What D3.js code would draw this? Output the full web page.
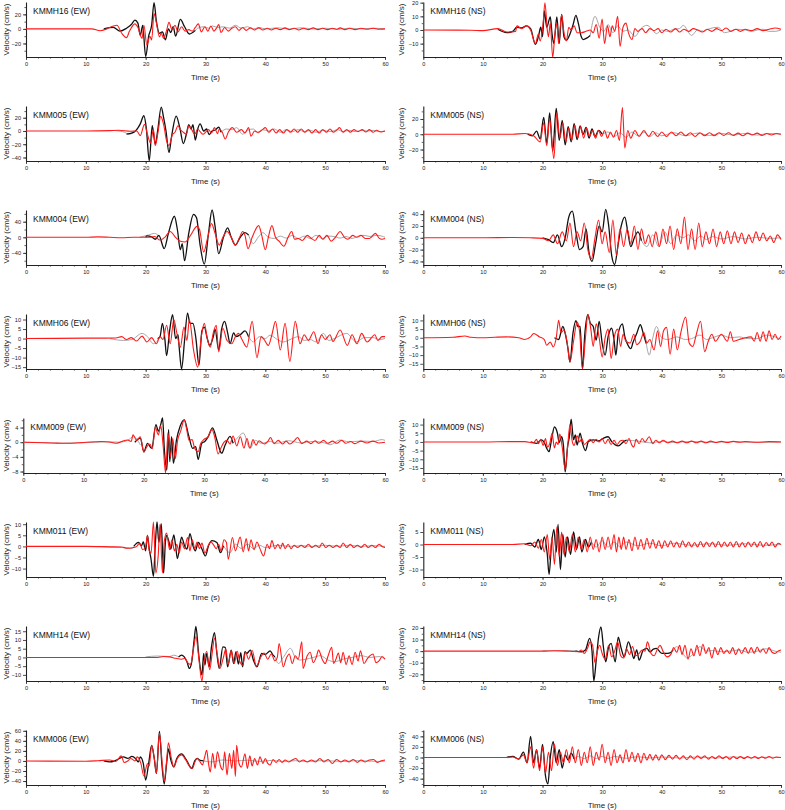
<!DOCTYPE html>
<html><head><meta charset="utf-8">
<script src="https://cdn.jsdelivr.net/npm/d3@7"></script>
<style>
body{margin:0;background:#fff}
text{font-family:"Liberation Sans",Arial,sans-serif}
</style>
</head><body>
<svg id="c" width="785" height="810"></svg>
<script>
// ---------- data: flat [time, velocity, time, velocity, ...]; null,null = gap ----------
const timeTicks = [0,10,20,30,40,50,60];

const ew1Obs = [13,0, 14.6,2, 15.7,-3, 16.8,1, 17.6,6, 18.2,12, 18.7,8, 19.1,-9, 19.5,5, 20.0,-38, 20.5,-10, 21.0,5, 21.4,36, 21.8,10, 22.3,-6, 22.8,-4, 23.3,-15, 23.8,0, 24.2,-5, 24.6,3, 25.0,-10, 25.8,13, 26.5,3, 27.3,-7, 28.3,-2];
const ew1Alt = [28.3,-2, 29,2, 29.8,3, 30.5,1, 31.2,4, 32,2, 33,3, 34,1, 35,5, 36,1, 37,3, 38,0, 39,2, 40,0, 42,1.5, 44,0, 46,1.5, 48,0, 50,1, 52,-0.5, 54,1, 56,0, 58,1, 60,0];
const ew1Sim = [0,0, 11,0, 12.4,-2.5, 13.5,0, 14.6,4, 15.2,5, 16.0,-6, 16.8,-12, 17.3,-3, 18.2,7, 18.7,2, 19.4,-13, 19.7,5, 20.2,-22, 20.7,-10, 21.0,-15, 21.4,21, 21.8,8, 22.3,-11, 22.6,-6, 23.0,-13, 23.5,-2, 23.9,9, 24.4,-1, 24.9,5, 25.4,-4, 26.0,3, 26.6,-3, 27.2,-1, 27.8,-3, 28.3,2, 28.8,7, 29.3,-4, 29.9,3, 30.4,-3, 30.9,4, 31.4,-3, 31.9,2, 32.2,6, 32.6,-5, 33.2,2, 33.8,-3, 34.4,1, 35.0,3, 35.6,-2, 36.2,2, 36.8,-2, 37.5,1.5, 38.2,-1.5, 38.9,1.5, 39.6,-1.5, 40.3,1, 41,-1.5, 41.8,1, 42.5,-1, 43.3,1.5, 44,-1, 44.8,1, 45.6,-1.5, 46.4,1, 47.2,-1, 48,1.5, 48.8,-1, 49.6,1, 50.4,-1, 51.2,1, 52,-0.5, 52.5,1.5, 53.3,-1, 54.1,1, 55,-1, 56,1, 57,-0.5, 58,1, 59,-0.5, 60,0];

const ew2Obs = [16.8,-4.6, 18,-2, 19.1,10.7, 19.7,23, 20.1,5, 20.6,-45, 21.1,8, 21.6,-20, 22,0, 22.6,36, 23,20, 23.4,0, 23.9,-32.6, 24.3,-10, 25.1,22.4, 25.7,5, 26.3,-19, 26.8,-5, 27.2,9.7, 27.6,3, 27.9,9.7, 28.3,-13.7, 28.7,3, 29.1,10.7, 29.7,0, 30.2,3, 30.6,-5.6, 31.1,0, 31.6,1.5, 32.2,5.6, 32.6,-2];
const ew2Alt = [15,0.5, 16.5,-2, 17.2,-5, 18,-2, null,null, 32.6,-2, 33.5,3, 34.5,2, 35.2,5, 36.2,-5, 37,1, 38,3, 38.8,-3, 39.5,2, 40.5,0, 41.5,3, 42.5,-2, 43.5,2, 44.5,-1, 45.5,2, 46.5,-1, 47.5,1, 48.5,-2, 49.5,1, 51,-1, 52,2, 53,-1, 54,1, 55,-1, 56,1, 57,0, 58,1, 59,-1, 60,0];
const ew2Sim = [0,0, 10,0, 14,0.5, 15.5,1, 17.5,-0.5, 18.5,0, 19.1,-7, 19.8,10, 20.3,-5, 20.8,-18, 21.3,2, 21.6,-22, 22.1,0, 22.5,22, 23.0,10, 23.5,-15, 23.9,-22, 24.5,-5, 24.9,-2, 25.4,8, 25.8,2, 26.3,-2, 26.8,-5, 27.2,8, 27.7,2, 28.2,-5, 28.7,3, 29.1,-1, 29.6,-5, 30,-2, 30.5,2, 31,-3, 31.5,5, 32,-4, 32.3,3, 32.8,-2, 33.3,-12, 33.8,-2, 34.5,5, 35.2,-2, 36,2, 36.6,-3, 37.2,5, 37.6,-8, 38.2,0, 38.8,-2, 39.5,2, 40,5, 40.6,-2, 41.2,3, 41.8,-3, 42.4,2, 43,-3, 43.6,2, 44.2,-2, 44.8,3, 45.4,-2, 46,3, 46.6,-2, 47.2,2, 47.8,-3, 48.4,2, 49,-3, 49.6,2, 50.2,-2, 50.8,3, 51.4,-2, 52,2, 52.4,5, 53,-2, 53.6,2, 54.2,-2, 54.8,2, 55.5,-1, 56.2,2, 56.8,-1.5, 57.4,2, 58,-2, 58.6,1, 59.3,-1.5, 60,0];

const ew3Obs = [20,0, 20.2,3.5, 21,1, 21.6,-5, 22.2,5, 23.1,-29, 23.8,10, 24.8,54, 25.3,20, 25.8,-32, 26.1,-16, 26.5,-60, 27.2,10, 28,59, 28.5,50, 29.1,-20, 29.8,-69, 30.5,10, 31.1,70, 31.6,28, 32.2,-42, 33,0, 33.7,24, 34.3,0, 35,-20, 35.8,0, 36.6,12, 37.2,6];
const ew3Alt = [19,0, 20.5,6, 21.5,10, 22.2,3, null,null, 37.2,6, 38,-16, 38.8,0, 39.6,12, 40.5,0, 41.5,-3, 42.5,3, 43.5,-2, 44.5,5, 45.5,-3, 46.5,3, 47.5,-3, 48.5,5, 49.5,-3, 50.5,3, 51.5,2, 52.5,-2, 53.5,2, 54.5,-3, 55.5,3, 56.5,5, 57.5,2, 58.5,5, 59.5,3, 60,0];
const ew3Sim = [0,0, 10,0, 12,1, 14,0, 16,-1, 18,0, 20.5,0, 21.5,2, 22.4,-7, 23.2,0, 24.1,15, 25,0, 25.8,-10, 26.6,-12, 27.5,5, 28.6,28, 29,20, 29.7,-38, 30.3,-5, 31,35, 31.6,10, 32.3,-20, 32.9,0, 33.6,15, 34.3,0, 35,-20, 35.7,0, 36.2,15, 36.6,5, 37.1,-29, 37.8,0, 38.9,30, 39.4,5, 40,-32, 40.5,0, 41.1,30, 41.7,0, 42.3,-10, 43.1,-23, 43.8,0, 44.4,15, 44.9,-5, 45.5,-3, 46.2,-8, 47,5, 47.7,-3, 48.3,-8, 49,5, 49.6,-5, 50.3,5, 51,-10, 51.7,0, 52.5,15, 53.2,0, 53.8,-5, 54.6,5, 55.3,0, 56,5, 56.7,-3, 57.4,-3, 58.4,10, 59,-2, 59.5,-5, 60,-3];

const ew4Obs = [22,0, 22.4,1, 22.8,8, 23.2,0, 23.5,-9, 24,4, 24.5,12.5, 25,0, 25.4,2, 25.6,-4.5, 26,-16, 26.5,-1, 27,13.4, 27.4,8, 27.9,8, 28.4,0, 28.9,-14, 29.4,4, 29.8,6, 30.3,0, 30.7,-3.6, 31.3,1, 31.6,5, 32.2,-6, 32.7,5, 33.2,9, 33.7,3, 34.1,-2.7, 34.7,3, 35.1,1, 35.8,2, 36.6,4, 37.2,1];
const ew4Alt = [14,0, 16.3,-1, 17.7,-0.5, 19.4,2.7, 20.3,1, 21.3,-2.7, 22.4,1, null,null, 37.2,1, 38,-1.8, 39,1, 40,0, 40.8,1.8, 42,-0.5, 43,-1.8, 44.5,0, 45.5,1, 46.5,-1, 47.5,-0.5, 48.5,-1.8, 49.7,2.7, 50.6,-1, 51.5,0, 53.6,2.7, 55.2,-1.8, 56.5,0.5, 58,0.5, 59,-0.5, 60,0];
const ew4Sim = [0,0, 10,0.2, 15,0.3, 16,1, 16.8,-0.5, 17.6,0.5, 18.5,-1.3, 19.4,1.3, 20.2,-1.8, 21,0.5, 21.8,-2.7, 22.4,1, 22.9,-0.5, 23.5,7, 24.1,-2.7, 24.7,10, 25.2,3, 25.8,-4.5, 26.4,6, 26.9,-1, 27.3,10, 28,-6, 28.7,-15, 29.3,1, 29.8,8, 30.3,0, 30.8,-4.5, 31.3,3, 31.8,7, 32.2,-7, 32.9,5.4, 33.6,-1, 34.4,-2.7, 35,1, 35.5,2.7, 36.1,-0.5, 36.9,-4.5, 37.8,9, 38.6,-10, 39.3,1, 39.8,-0.5, 40.5,-3.6, 41.1,2, 41.7,9, 42.5,-6, 43.3,8, 44.1,-12, 45,9, 45.8,-2.7, 46.5,2, 47.2,-1, 48.1,3.6, 48.8,-2.7, 49.4,2, 50,-0.5, 50.8,2, 51.3,-1.5, 52.5,4.5, 53.7,-3.6, 54.5,2, 55.3,-2.7, 56.1,2.7, 57,-1.8, 58.3,2, 58.8,-1, 59.5,1, 60,1];

const ew5Obs = [18.5,0, 19.4,1.1, 20,-2.6, 20.6,-0.3, 21.3,-1.7, 22,4.8, 22.4,3, 22.8,4.8, 23.1,6.6, 23.4,-2, 23.8,-7.6, 24.1,3.4, 24.3,-5.3, 24.6,1.5, 24.9,-5.8, 25.4,0.5, 26,4.3, 26.7,6.1, 27.4,2, 28.1,-1.7, 28.6,-1.2, 29,-4.7, 29.6,-0.3, 30.1,0.2, 30.7,1.6, 31.4,3.9, 32.1,0.6, 32.9,-3, 33.5,-0.7, 34.3,1.6, 34.8,-0.3];
const ew5Alt = [0,0, 3,-0.1, 6,-0.3, 9,-0.2, 12,0, 14,0.1, 16,0, 17.3,0.5, 18.3,1.5, 19.4,-0.7, null,null, 34.8,-0.3, 35.7,1.5, 36.5,2.5, 37.6,-1.7, 38.5,0.5, 39.5,-0.3, 41,0.2, 42,-0.3, 44,0.4, 46,-0.2, 48,0.2, 50,-0.2, 50.9,-0.7, 52.5,0.6, 54,0.1, 56,0.3, 58,0.2, 59.5,0.7, 60,0.5];
const ew5Sim = [0,0, 5,-0.2, 7,-0.3, 10,-0.1, 13,0.2, 14.5,0, 15.5,-0.3, 16.5,0.3, 17.3,0.6, 17.9,0.2, 18.2,2, 18.8,0.5, 19.4,1.5, 20,-2.7, 20.5,-1.2, 21,-0.5, 21.4,-1.8, 21.9,4, 22.4,2, 22.8,4.5, 23.2,-1, 23.6,-8.4, 24,2.5, 24.4,-4, 24.8,1, 25.2,-4.5, 25.6,0.5, 26.1,3, 26.7,6.1, 27.1,3.5, 27.5,0.5, 28,0.7, 28.4,-1.5, 29,-2.6, 29.4,-0.5, 30,0.8, 30.6,1.4, 31.3,3.5, 31.8,1, 32.3,-3.2, 32.8,-1.5, 33.3,0, 33.8,0.5, 34.3,-0.5, 34.8,1.7, 35.4,-1, 36,1.5, 36.6,-1.6, 37.1,1, 37.6,-1.6, 38.1,0.7, 38.6,-0.8, 39.1,0.4, 40,-0.5, 40.6,0.3, 41,1.3, 41.6,-0.4, 42.3,0.5, 43,-0.5, 43.6,0.3, 44.2,-0.5, 45,0.5, 45.5,1.3, 46.2,-0.4, 47,0.3, 47.7,-0.4, 48.4,0.4, 49,-0.3, 49.8,0.5, 50.5,-0.3, 51.3,0.3, 52,-0.3, 52.8,0.5, 53.5,-0.3, 54.3,0.2, 55,-0.4, 56,0.3, 57,-0.2, 58,0.3, 59,-0.2, 60,0];

const ew6Obs = [18,0, 18.8,1.8, 19.3,0.3, 19.6,2, 20,-2, 20.3,5, 20.6,-1.2, 20.9,-5.8, 21.3,-13.5, 21.6,0.3, 21.9,11, 22.2,1.8, 22.6,10.3, 22.8,-0.5, 23,-12, 23.3,2, 23.5,5, 23.9,2, 24.2,-1.2, 24.7,5.2, 25,0.3, 25.3,-5.5, 25.8,2, 26,4.2, 26.5,0.3, 26.9,-1.2, 27.4,5.7, 27.9,0.3, 28.3,-2, 28.8,1.8, 29.4,-1.2, 30,-4.3, 30.5,0.3, 31.1,2.6, 31.9,1.8, 32.5,-2.8, 33,0.3];
const ew6Alt = [12,0, 14,-0.3, 16,-0.5, 17.5,-1, 18,-0.5, null,null, 33,0.3, 34.1,-2.8, 35,1, 36,-1, 37,1, 38,-1, 39,0.5, 40,-0.5, 42,0.5, 44,0, 46,0.3, 48,0, 50,0.5, 52,0, 54,0.5, 56,0, 58,0.3, 60,0];
const ew6Sim = [0,0, 10,0, 14,-0.2, 16,-0.3, 17,-0.8, 18,-0.5, 18.5,0, 19,1.5, 19.5,-1.5, 20,0, 20.3,5, 20.6,-2, 20.9,-3, 21.3,11, 21.7,-12, 22.1,-4, 22.4,10, 22.8,-12, 23.1,2, 23.5,6, 24,-1.5, 24.4,3, 24.8,-2, 25.2,1, 25.6,-3, 26,2, 26.5,-1, 27,4, 27.4,-2, 27.8,3, 28.2,-1, 28.6,2, 29,-1, 29.4,1.5, 29.9,-3, 30.4,0, 30.9,2, 31.4,0.5, 31.8,-1, 32.2,1, 32.6,-2, 33.1,3, 33.5,1.8, 33.8,-5.8, 34.5,4, 35,-2, 35.8,4.2, 36.3,-2.5, 36.8,3.5, 37.2,-2, 37.6,3, 38.1,-1.5, 38.6,2, 39.1,-1, 39.7,-4.3, 40.3,1, 40.7,-1, 41.1,2.6, 41.6,-1, 42.1,1, 42.5,-1, 42.9,1.5, 43.3,-1, 43.8,1, 44.3,-1, 44.8,0.5, 45.4,-0.5, 46,0.5, 46.6,-0.5, 47.2,1, 47.8,-0.5, 48.4,0.5, 49,-0.5, 49.5,1.5, 50.1,-0.5, 50.7,0.5, 51.3,-0.5, 51.9,0.5, 52.5,-0.5, 53,1.5, 53.6,-0.5, 54.2,1, 54.8,-0.5, 55.4,0.5, 56,-0.5, 56.6,1, 57.2,-0.5, 57.8,0.5, 58.4,-0.5, 59,1, 59.5,0, 60,-0.5];

const ew7Obs = [25.5,0.3, 26,1.3, 26.9,-2.5, 27.3,-6.3, 27.7,-2.5, 28.1,10, 28.4,17.7, 28.8,4, 29.1,-5.4, 29.4,-10, 29.7,2.3, 29.9,-4.4, 30.2,2.3, 30.6,-5.4, 31,6, 31.5,14.2, 31.9,2.3, 32.3,-6.3, 32.9,6, 33.3,5.8, 33.7,-5.4, 34.3,4.2, 34.7,-3.5, 35.1,3.3, 35.5,-3.8, 35.9,2.7, 36.2,-5.4, 36.6,3.3, 36.9,2.3, 37.5,4.2, 38,-1.5, 38.6,-5.4, 39.4,2.3, 40,1.7, 40.8,3.8, 41.3,1.3, 41.6,0.3];
const ew7Alt = [20,0.3, 22,0.8, 24,0.5, 24.7,1.3, 25.5,0.3, null,null, 41.6,0.3, 42.2,-3.5, 43,0, 44.2,5.2, 45,0, 45.8,-1.5, 46.8,-1, 48,0, 49.2,1, 50.5,-1.5, 51.5,-2.5, 53,-1, 54.5,0, 56,1, 57.5,0, 59,0.5, 60,-1];
const ew7Sim = [0,0, 10,0, 20,0, 22,0, 23,0.5, 24,0.3, 25,-0.5, 26,-1, 26.6,-0.5, 27,-3, 27.5,-4, 28,5, 28.4,12, 28.9,-1, 29.4,-13.5, 29.8,-2, 30.2,3.5, 30.7,-7, 31.1,2, 31.5,11, 32,1, 32.4,-6.3, 33,0, 33.4,5, 33.8,-4, 34.3,4, 34.8,-3.5, 35.3,3.5, 35.7,-2, 36.2,-4.5, 36.7,3, 37.2,-1, 37.8,4, 38.5,-5, 39.2,0, 39.8,2.5, 40.4,-1, 41,2, 41.6,-2, 42,0, 42.3,8, 43,-5.4, 43.5,-0.5, 44,2, 44.5,-3.5, 45,1, 45.5,-1, 46.1,9, 46.3,-6.3, 47,1, 47.5,3, 48,-3, 48.5,0, 48.9,4.2, 49.5,-1, 50,-3.5, 50.5,1, 51.1,5.8, 51.4,-3.5, 51.8,-1, 52.2,2.5, 52.6,-3, 53,3, 53.5,-4, 54,1, 54.5,-4, 55,3, 55.5,-2, 55.9,3.8, 56.5,-3.5, 57,-1, 57.5,1, 58,2, 58.5,-3, 59,-2, 59.5,0.5, 60,-1];

const ew8Obs = [13,0, 14,-2, 15,1, 16.3,8, 17,5, 17.7,9, 18.3,5, 18.8,-2, 19.1,8, 19.6,-5, 20,-38, 20.5,-5, 21,31, 21.4,8, 21.8,-25, 22.3,59, 22.7,-5, 23.1,-46, 23.5,-5, 23.8,24, 24.2,2, 24.7,-12, 25.2,5, 26,14, 26.8,2, 27.7,-15, 28.2,0, 28.6,5, 29.1,1, 29.7,0];
const ew8Alt = [29.7,0, 31,-2, 33,2, 35,0, 37,1.5, 39,-1, 41,1, 43,-1, 45,0.5, 47,-1, 49,0.5, 51,0, 53,-1, 55,0.5, 57,0, 59,-1, 60,0];
const ew8Sim = [0,0, 10,-0.5, 12,0.5, 14,2, 15,-1, 15.9,10, 16.4,-3, 17,0, 17.5,5, 18.2,0, 18.6,8, 19.2,-5, 19.7,-30, 20.3,-5, 20.6,-10, 21,31, 21.5,0, 21.8,-25, 22.3,55, 22.8,-10, 23.1,-40, 23.5,0, 23.8,36, 24.3,5, 24.7,-12, 25.3,5, 26,12, 26.7,2, 27.3,-10, 27.8,-15, 28.3,0, 28.6,5, 29.1,-2, 29.5,-8, 29.8,5, 30.2,21, 30.5,-5, 30.8,-22, 31.2,15, 31.6,-15, 32,18, 32.5,-10, 32.9,-18, 33.2,18, 33.6,-28, 34,15, 34.4,-15, 34.7,21, 35,-31, 35.2,31, 35.6,-5, 36,-12, 36.6,14, 37,-15, 37.4,10, 37.8,-10, 38.2,5, 38.7,-8, 39.1,8, 39.6,-5, 40,5, 40.4,-5, 40.8,-8, 41.3,3, 41.8,-3, 42.3,3, 42.8,-3, 43.3,2, 43.9,-2, 44.5,2, 45.1,5, 45.7,-2, 46.3,2, 47,-2, 47.7,2, 48.4,-2, 49.1,5, 49.8,-2, 50.5,3, 51.2,-5, 51.9,3, 52.6,-2, 53.3,2, 54,-2, 54.7,3, 55.4,-3, 56,2, 56.7,-2, 57.4,2, 58.1,3, 58.7,-3, 59.3,0, 60,2];

const ns1Obs = [12.5,0.5, 14,-2, 15,-1, 15.7,2, 16.5,1.5, 17.3,3, 18,1, 18.8,-10.5, 19.3,-5, 19.7,2, 20,-5, 20.3,14, 20.7,2, 21.3,9.5, 21.6,-3, 21.9,-10, 22.4,9.5, 22.8,-10, 23.2,11.5, 23.6,-5, 24,-7.5, 24.6,-3, 25.1,3.5, 25.6,10.7, 26,5, 26.5,-5, 26.8,-7, 27.4,-6, 28,-4];
const ns1Alt = [28,-4, 28.8,10, 29.6,2, 30.3,-1, 31,4, 31.8,-2, 32.6,3, 33.5,-1, 34.3,0, 35.5,-4.6, 36.5,1, 37.5,3.4, 38.3,1, 39.1,-2.7, 40,0, 41,-1, 42,0.5, 43,1, 43.6,3.4, 45,-4, 46,0, 47,-1, 48,1, 49.5,2, 50.5,-2, 51.5,-1, 52.5,0.5, 54,0, 55,-1, 56,0, 57,0.5, 58,-1, 59,-1, 60,0];
const ns1Sim = [0,0, 8,-0.2, 10,-0.5, 12.5,1, 14,-1.5, 15.5,-1, 15.7,3, 16.5,1, 17.3,3, 18,0, 18.8,-10, 19.3,-3, 19.6,-8, 20.1,5, 20.4,20, 20.8,0, 21.0,-5, 21.3,5, 21.7,-20, 22.1,-2, 22.4,5, 22.7,-10, 23.2,11.5, 23.6,-2, 24.0,-8, 24.4,2, 24.8,0, 25.3,3, 25.8,-2, 26.5,-2, 27.3,-1, 28.0,0, 28.5,-2, 29.0,4, 29.5,-6, 30.0,8, 30.4,-10, 30.9,3, 31.3,-5, 31.7,3, 32.1,-1, 32.6,10, 33.0,-12, 33.5,2, 34.0,5, 34.4,-2, 35.0,-7, 35.5,1, 36,-1, 36.7,1, 37.3,-2, 38,1, 38.7,-0.5, 39.4,1, 40,-2, 40.7,0.5, 41.5,-1.5, 42.3,1, 43,-1.5, 43.7,0.5, 44.5,-1, 45.3,1, 46,0, 46.8,-1.5, 47.6,0.5, 48.4,-1, 49.2,1, 50,-0.5, 50.8,1.5, 51.6,-1, 52.4,0.5, 53.2,-1, 54,0.5, 55,-0.5, 56,1, 57,-0.5, 58,0.5, 59,1.5, 60,0.5];

const ns2Obs = [17.5,0, 18.3,-2, 19,4, 19.6,-6, 20.2,22, 20.7,-12, 21.2,28, 21.7,-22, 22.3,34, 22.8,-8, 23.3,18, 23.8,-14, 24.3,10, 24.8,-10, 25.3,14, 25.8,-7, 26.3,11, 26.8,0, 27.3,9, 27.8,-5, 28.3,7, 28.8,-3, 29.4,5, 30,0];
const ns2Alt = [30,0, 31,3, 32,-3, 33,2, 34,-4, 35,3, 36,-2, 37,3, 38,-3, 39,2, 40,-2, 42,2, 44,-2, 46,1.5, 48,-1.5, 50,1, 52,-1, 54,1, 56,-1, 58,1, 60,0];
const ns2Sim = [0,0, 15,0, 17,1, 18.5,-2, 19.6,-10, 20.2,15, 20.7,-15, 21.2,20, 21.9,-32, 22.4,28, 22.9,-5, 23.4,15, 23.9,-10, 24.4,8, 24.9,-8, 25.4,12, 25.9,-5, 26.4,10, 26.9,-5, 27.4,8, 27.9,-3, 28.4,5, 28.9,-5, 29.4,5, 29.9,-3, 30.4,5, 30.9,-5, 31.4,3, 31.9,-4, 32.4,5, 32.9,-8, 33.4,35, 33.8,-18, 34.3,5, 34.8,-5, 35.5,5, 36.2,-3, 37,5, 37.8,-3, 38.5,4, 39.3,-3, 40,3, 40.8,-3, 41.6,3, 42.4,-2, 43.2,3, 44,-2, 44.8,2, 45.6,-3, 46.4,2, 47.2,-2, 48,2, 48.8,-2, 49.6,2, 50.4,-1.5, 51.2,2, 52,-1.5, 52.8,1.5, 53.6,-2, 54.4,1.5, 55.2,-1, 56,1.5, 56.8,-1.5, 57.6,1, 58.4,-1, 59.2,1, 60,0];

const ns3Obs = [20,0, 21,-3, 21.8,-8, 22.5,5, 23.2,-15, 23.8,0, 24.4,35, 25,45, 25.6,10, 26.2,-20, 26.8,-15, 27.3,15, 27.8,-25, 28.3,-40, 28.9,-10, 29.5,20, 30,10, 30.6,48, 31.1,20, 31.6,-30, 32.1,-45, 32.7,-10, 33.2,20, 33.8,35, 34.3,10, 34.8,-15, 35.4,0, 36,10, 36.6,-5];
const ns3Alt = [36.6,-5, 37.5,-15, 38.5,5, 39.5,-15, 40.5,10, 41.5,-10, 42.5,5, 43.5,0, 44.5,5, 45.5,-5, 46.5,3, 47.5,-3, 48.5,2, 50,-2, 52,2, 54,-2, 56,1, 58,-1, 60,0];
const ns3Sim = [0,0, 10,0, 15,0.5, 18,0, 20,-1, 21,-5, 21.8,5, 22.5,-10, 23.3,10, 24,-5, 24.6,25, 25.2,-15, 25.8,10, 26.4,-5, 27,25, 27.6,-20, 28.2,-35, 28.8,0, 29.4,30, 30,-10, 30.5,10, 31.2,-25, 31.8,30, 32.4,-30, 33,15, 33.6,-15, 34.2,15, 34.8,-10, 35.4,20, 36,-20, 36.6,15, 37.2,-10, 37.8,5, 38.4,-15, 39,10, 39.6,-15, 40.2,15, 40.8,-10, 41.4,20, 42,-20, 42.6,15, 43.2,-10, 43.8,35, 44.4,-20, 45,15, 45.6,-20, 46.2,25, 46.8,-15, 47.4,10, 48,-10, 48.6,15, 49.2,-15, 49.8,10, 50.4,-10, 51,12, 51.6,-10, 52.2,10, 52.8,-8, 53.4,8, 54,-10, 54.6,5, 55.2,-8, 55.8,10, 56.4,-5, 57,8, 57.6,-5, 58.2,3, 58.8,-8, 59.4,5, 60,-3];

const ns4Obs = [22,0, 22.7,-1, 23.4,6.5, 23.8,2.5, 24.3,-7, 24.6,-14, 25.1,2.5, 25.6,9.8, 25.9,6.5, 26.3,6.5, 26.7,-18, 27.1,2.5, 27.6,13.3, 28,8.5, 28.5,6.5, 29,-1.4, 29.5,9.4, 30,-3, 30.5,-10, 31,0.6, 31.6,5.5, 32,-1.4, 32.3,-10, 32.7,2.5, 33.4,8, 33.8,0.6, 34.2,-3.3, 34.8,-6.3, 35.2,-2.4, 35.8,2.5, 36.4,7.5, 36.9,2.5, 37.4,-3.3];
const ns4Alt = [37.4,-3.3, 37.9,-10, 38.5,0, 39.1,6.5, 40,0, 41,-1, 42.5,0.5, 44,-1, 45,-0.5, 46.4,1.6, 47.5,-1, 48.5,0, 50,1.5, 51.5,0, 53,0.5, 54.5,-0.5, 56,-0.5, 57.5,1.5, 59,0.5, 60,-1];
const ns4Sim = [0,0, 5,0.3, 7,1, 8,0.3, 10,0, 12,0.3, 14,0.5, 16,0, 17,-1, 18,0.5, 18.5,2.5, 19.5,0.5, 20.3,-1, 20.7,-4.3, 21.3,-2.5, 21.8,-5.3, 22.3,0, 22.7,10, 23.1,3, 23.6,4.5, 24.1,-2, 24.6,-14, 25.2,-2, 25.8,9, 26.2,4, 26.7,-18, 27.2,0, 27.6,13.5, 28.1,5, 28.5,-5, 29,8, 29.5,0, 30,-11, 30.5,0, 31,5, 31.5,-12, 32,0, 32.6,5, 33.1,-5, 33.5,2, 34,-2, 34.7,-3, 35.3,2, 35.8,-4, 36.4,-2, 37,3, 37.5,-3, 38,-1, 38.7,-7, 39.3,4, 39.8,-5, 40.3,4, 40.8,6, 41.4,-9.5, 42,5, 42.6,-7, 43.2,3, 44,12, 44.6,-3, 45.2,-5, 45.8,2, 46.5,9.5, 47.2,-8, 47.8,-2, 48.4,2, 49,-2, 50,2, 51,-2, 51.5,3.5, 52,-2, 53,-1, 54,0, 55,0.5, 55.5,-2, 56,3, 56.5,-2, 57,3.5, 57.5,-2, 58,4, 58.5,-1, 59,2, 59.5,-1, 60,1];

const ns5Obs = [18,0, 19,-0.8, 19.8,1.2, 20.3,-0.4, 20.7,-3.7, 21.1,-5.6, 21.5,1.2, 22,8.6, 22.5,5, 22.8,-0.4, 23.2,3, 23.5,-1.8, 23.8,-17.3, 24.2,-2.7, 24.5,3, 24.8,13.2, 25.2,1.2, 25.5,4, 25.8,-1.8, 26.3,5, 26.7,-0.8, 27.2,-5, 27.7,0.2, 28.5,1.2, 29.4,0.6, 30.2,2.1, 31,3, 31.6,0.2, 32.7,-2.3, 33.6,0.2, 34.1,1];
const ns5Alt = [34.1,1, 36,0.5, 38,-0.5, 40,0.3, 42,-0.3, 45,0.3, 48,-0.2, 52,0.2, 56,-0.2, 60,0];
const ns5Sim = [0,0, 10,0, 15,0.2, 17,0.2, 18.5,-0.5, 19,1.5, 19.3,-1, 19.7,1.5, 20.1,-2, 20.5,2, 20.8,-3, 21.2,-1, 21.6,5, 22,-3.5, 22.3,0, 22.6,-1.5, 22.9,4.5, 23.3,-3, 23.8,-16, 24.2,-3, 24.6,10, 25,0, 25.3,-2, 25.8,3.5, 26.2,0, 26.6,2, 27,-1.5, 27.5,0, 28,1.5, 28.5,-0.5, 29,1.5, 29.5,0, 30,2, 30.5,-1, 31,1.5, 31.5,-1.5, 32,1, 32.5,-1.5, 33,0.5, 33.5,1, 34,-1, 34.5,2, 35,-2, 35.3,-3, 35.7,1.5, 36.2,-1, 36.7,2, 37.2,0, 37.9,3, 38.5,-1, 39,1, 39.6,-0.5, 40.2,1, 41,-0.5, 41.8,0.5, 42.6,-0.5, 43.4,0.5, 44.2,-0.5, 45,0.5, 45.8,-0.5, 46.6,0.5, 47.4,-0.5, 48.2,0.5, 49,-0.3, 50,0.3, 51,-0.3, 52,0.3, 53,-0.2, 54,0.2, 56,-0.2, 58,0.2, 60,0];

const ns6Obs = [17,0, 18,0.5, 18.7,-1, 19.3,2, 19.8,-2, 20.3,3, 20.8,-4, 21.1,-12, 21.5,0, 21.9,6, 22.3,-3, 22.6,8, 23,-10, 23.4,4, 23.8,-5, 24.2,3, 24.7,-4, 25.2,5, 25.7,-2, 26.2,3, 26.6,-3, 27.2,2, 27.7,-1, 28.2,1];
const ns6Alt = [28.2,1, 29,-1, 30,1.5, 31,-1, 32,1, 33,-1, 34,1, 36,-0.5, 38,0.5, 40,-0.5, 42,0.5, 45,-0.3, 48,0.3, 51,-0.3, 54,0.3, 57,-0.3, 60,0];
const ns6Sim = [0,0, 15,0, 17,0.3, 18,-0.5, 18.7,1, 19.3,-1.5, 19.8,2, 20.3,-3, 20.8,4, 21.2,-6, 21.6,3, 22,-8, 22.4,7, 22.8,-5, 23.2,5, 23.6,-4, 24,3, 24.5,-3, 25,4, 25.5,-3, 26,3, 26.5,-2, 27,2, 27.5,-3, 28,3, 28.5,-2, 29,2, 29.5,-3, 30,3, 30.5,-2, 31,3, 31.5,-2, 32,4, 32.4,-3, 32.8,3, 33.2,-2, 33.6,3, 34,-2, 34.5,2, 35,-2.5, 35.5,3, 36,-2, 36.5,2, 37,-2, 37.5,2.5, 38,-1.5, 38.5,2, 39,-1.5, 39.5,1.5, 40,-1.5, 40.5,1.5, 41,-1, 41.5,1.5, 42,-1, 42.5,1, 43,-1.2, 43.5,1.5, 44,-1, 44.5,1, 45,-1, 45.5,0.8, 46,-1, 46.5,1.2, 47,-1, 47.5,1, 48,-0.8, 48.5,1, 49,-1, 49.5,1.2, 50,-1, 50.5,1, 51,-0.8, 51.5,1, 52,-1, 52.5,1.2, 53,-1, 53.5,0.8, 54,-1, 54.5,1, 55,-0.8, 55.5,1, 56,-1, 56.5,1.2, 57,-1, 57.5,0.8, 58,-0.5, 58.5,1, 59,-1, 59.5,0.5, 60,0];

const ns7Obs = [25.5,0.3, 26.5,-0.6, 27.2,1, 27.9,11, 28.3,0, 28.6,-25.8, 29,-8, 29.4,12, 29.8,21, 30.2,4, 30.6,-9.3, 31.1,4, 31.5,6.7, 32.2,-9.3, 32.7,12, 33.2,2.3, 33.7,-5, 34.4,8, 34.9,1, 35.3,-6.4, 35.8,1, 36.2,-7.8, 36.9,1, 37.5,2.3, 38,-0.6, 38.6,1.7, 39.1,2.3, 40,-2, 40.6,-2, 41.4,-1.5, 41.9,1];
const ns7Alt = [20,0.3, 22,0.3, 24,0.5, 25.5,0.3, null,null, 41.9,1, 42.5,3.8, 43.3,0, 44.2,-5.8, 45.2,-3, 46.4,3.8, 47.5,0, 48.5,0.5, 50,-0.5, 51.5,0, 53,1, 54.5,-1, 56,0, 57.5,2, 59,0, 60,-1];
const ns7Sim = [0,0, 10,0, 20,0, 22,0.3, 24,0, 25,-0.3, 26,-0.5, 26.5,1, 27,-2, 27.5,2, 28,8, 28.4,5, 28.8,-10, 29.2,0, 29.6,5, 30,-2, 30.5,-7, 31.1,5, 31.6,-5, 32.1,0, 32.6,8, 33.1,-4, 33.6,-6, 34.1,2, 34.6,-3, 35.1,4, 35.6,-4, 36.2,-2, 36.7,1, 37.2,0, 37.6,8, 38.2,-2, 38.7,-4, 39.3,2, 39.7,5, 40.3,-1, 40.9,-5, 41.5,-3, 42,3, 42.5,-1, 43,5, 43.4,-3, 43.9,5, 44.4,-7, 44.9,2, 45.4,-4, 45.9,5, 46.4,-4, 46.9,6, 47.4,-2, 47.9,3, 48.4,-6, 48.9,3, 49.4,-3, 49.9,3, 50.4,-2, 50.9,1, 51.4,-2, 51.9,3, 52.4,-3, 52.9,2, 53.4,-2, 54,3, 54.5,-2, 55,3, 55.5,-2, 56,3.5, 56.5,-1, 57,2, 57.5,-2, 58,3, 58.5,-1, 59,-2, 59.5,0, 60,1];

const ns8Obs = [14,0, 15,2, 16,-3, 16.8,10, 17.4,-10, 18,40, 18.5,-10, 19,15, 19.5,-20, 20,25, 20.5,-35, 20.9,-50, 21.3,0, 21.8,30, 22.3,-10, 22.8,15, 23.3,-20, 23.8,5, 24.3,-5, 24.8,8, 25.3,-3];
const ns8Alt = [25.3,-3, 26,2, 27,-2, 28,3, 29,-2, 30,2, 31,-2, 32,2, 34,-1.5, 36,1.5, 38,-1, 40,1, 43,-1, 46,1, 49,-1, 52,1, 55,-0.5, 58,0.5, 60,0];
const ns8Sim = [0,0, 14,0, 15,1, 16,-3, 16.8,5, 17.4,-10, 18,20, 18.5,-20, 19,15, 19.5,-25, 20,20, 20.5,-30, 21,10, 21.5,-25, 22,25, 22.5,-15, 23,10, 23.5,-10, 24,15, 24.5,-10, 25,20, 25.5,-10, 26,15, 26.5,-15, 27,10, 27.5,-10, 28,20, 28.5,-15, 29,10, 29.5,-5, 30,25, 30.5,-10, 31,10, 31.5,-15, 32,15, 32.5,-10, 33,5, 33.5,-10, 34,15, 34.5,-8, 35,10, 35.5,-8, 36,8, 36.5,-10, 37,8, 37.5,-5, 38,6, 38.5,-5, 39,5, 39.5,-5, 40,5, 40.6,-4, 41.2,4, 41.8,-3, 42.4,4, 43,-3, 43.6,3, 44.2,-4, 44.8,3, 45.4,-3, 46,3, 46.6,-2, 47.2,3, 47.8,-3, 48.4,2, 49,-2, 49.6,3, 50.2,-2, 50.8,2, 51.4,-3, 52,2, 52.6,-2, 53.2,2, 53.8,-2, 54.4,2, 55,-1.5, 55.6,2, 56.2,-2, 56.8,1.5, 57.4,-1.5, 58,2, 58.6,-1.5, 59.2,1, 60,0];

// ---------- panel table (built from the arrays above) ----------
const panels = [
  {label:"KMMH16 (EW)", row:0, col:0, yDomain:[-38.6,37],   yStep:20, yMinor:10, obs:ew1Obs, alt:ew1Alt, sim:ew1Sim},
  {label:"KMM005 (EW)", row:1, col:0, yDomain:[-45.3,37.7], yStep:20, yMinor:10, obs:ew2Obs, alt:ew2Alt, sim:ew2Sim},
  {label:"KMM004 (EW)", row:2, col:0, yDomain:[-71,70],     yStep:40, yMinor:20, obs:ew3Obs, alt:ew3Alt, sim:ew3Sim},
  {label:"KMMH06 (EW)", row:3, col:0, yDomain:[-16,12.9],   yStep:5,  yMinor:null, obs:ew4Obs, alt:ew4Alt, sim:ew4Sim},
  {label:"KMM009 (EW)", row:4, col:0, yDomain:[-8.4,6.6],   yStep:4,  yMinor:2, obs:ew5Obs, alt:ew5Alt, sim:ew5Sim, narrow:true},
  {label:"KMM011 (EW)", row:5, col:0, yDomain:[-13.8,11],   yStep:5,  yMinor:null, obs:ew6Obs, alt:ew6Alt, sim:ew6Sim},
  {label:"KMMH14 (EW)", row:6, col:0, yDomain:[-13.5,18],   yStep:5,  yMinor:null, obs:ew7Obs, alt:ew7Alt, sim:ew7Sim},
  {label:"KMM006 (EW)", row:7, col:0, yDomain:[-47.9,61.6], yStep:20, yMinor:10, obs:ew8Obs, alt:ew8Alt, sim:ew8Sim},
  {label:"KMMH16 (NS)", row:0, col:1, yDomain:[-19.8,20.5], yStep:10, yMinor:5, obs:ns1Obs, alt:ns1Alt, sim:ns1Sim},
  {label:"KMM005 (NS)", row:1, col:1, yDomain:[-35,37],     yStep:20, yMinor:10, obs:ns2Obs, alt:ns2Alt, sim:ns2Sim},
  {label:"KMM004 (NS)", row:2, col:1, yDomain:[-46,47],     yStep:20, yMinor:10, obs:ns3Obs, alt:ns3Alt, sim:ns3Sim},
  {label:"KMMH06 (NS)", row:3, col:1, yDomain:[-18,13.7],   yStep:5,  yMinor:null, obs:ns4Obs, alt:ns4Alt, sim:ns4Sim},
  {label:"KMM009 (NS)", row:4, col:1, yDomain:[-17.9,13.8], yStep:5,  yMinor:null, obs:ns5Obs, alt:ns5Alt, sim:ns5Sim},
  {label:"KMM011 (NS)", row:5, col:1, yDomain:[-13,9],      yStep:5,  yMinor:null, obs:ns6Obs, alt:ns6Alt, sim:ns6Sim},
  {label:"KMMH14 (NS)", row:6, col:1, yDomain:[-25.8,21.7], yStep:10, yMinor:5, obs:ns7Obs, alt:ns7Alt, sim:ns7Sim},
  {label:"KMM006 (NS)", row:7, col:1, yDomain:[-52,52],     yStep:20, yMinor:10, obs:ns8Obs, alt:ns8Alt, sim:ns8Sim}
];

// ---------- drawing ----------
const svg = d3.select("#c");
svg.append("rect").attr("width",785).attr("height",810).attr("fill","#fff");

function pairs(flat){
  const out=[];
  for(let i=0;i<flat.length;i+=2) out.push([flat[i],flat[i+1]]);
  return out;
}
function stepTicks(dom, step){
  const lo=Math.ceil(dom[0]/step-1e-9)*step, hi=Math.floor(dom[1]/step+1e-9)*step;
  return d3.range(lo, hi+step/2, step);
}

panels.forEach(p=>{
  const bottom = 57 + p.row*104, top = bottom - 55;
  const x0 = (p.col===0 ? 26 : 423.3) - (p.narrow ? 2.7 : 0);
  const x1 = p.col===0 ? 385 : 781;
  const x = d3.scaleLinear().domain([0,60]).range([x0,x1]);
  const y = d3.scaleLinear().domain(p.yDomain).range([bottom,top]);
  const g = svg.append("g");

  g.append("g").attr("transform",`translate(0,${bottom})`)
    .call(d3.axisBottom(x).tickValues(d3.range(0,61,2)).tickSize(1.6).tickSizeOuter(0).tickFormat(""))
    .call(a=>a.select(".domain").remove())
    .call(a=>a.selectAll("line").attr("stroke","#222").attr("stroke-width",0.7));
  g.append("g").attr("transform",`translate(0,${bottom})`)
    .call(d3.axisBottom(x).tickValues(timeTicks).tickSize(3).tickSizeOuter(0).tickPadding(2).tickFormat(d3.format("d")))
    .call(a=>a.select(".domain").attr("stroke","#222").attr("stroke-width",1.1))
    .call(a=>a.selectAll("line").attr("stroke","#222").attr("stroke-width",0.8))
    .call(a=>a.selectAll("text").attr("font-size",5.6).attr("fill","#222").attr("font-family","Liberation Sans, Arial, sans-serif"));

  if(p.yMinor){
    g.append("g").attr("transform",`translate(${x0},0)`)
      .call(d3.axisLeft(y).tickValues(stepTicks(p.yDomain,p.yMinor)).tickSize(1.6).tickSizeOuter(0).tickFormat(""))
      .call(a=>a.select(".domain").remove())
      .call(a=>a.selectAll("line").attr("stroke","#222").attr("stroke-width",0.7));
  }
  g.append("g").attr("transform",`translate(${x0},0)`)
    .call(d3.axisLeft(y).tickValues(stepTicks(p.yDomain,p.yStep)).tickSize(3).tickSizeOuter(0).tickPadding(2).tickFormat(d3.format("d")))
    .call(a=>a.select(".domain").attr("stroke","#222").attr("stroke-width",1.1))
    .call(a=>a.selectAll("line").attr("stroke","#222").attr("stroke-width",0.8))
    .call(a=>a.selectAll("text").attr("font-size",5.6).attr("fill","#222").attr("font-family","Liberation Sans, Arial, sans-serif"));

  g.append("text").attr("x",(x0+x1)/2).attr("y",bottom+23).attr("text-anchor","middle")
    .attr("font-size",8).attr("fill","#222").text("Time (s)");
  const labX = p.col===0 ? 9 : 404;
  g.append("text").attr("transform",`translate(${labX},${(top+bottom)/2}) rotate(-90)`)
    .attr("text-anchor","middle").attr("font-size",8).attr("fill","#222").text("Velocity (cm/s)");

  const line = d3.line().defined(d=>d[0]!=null).x(d=>x(d[0])).y(d=>y(d[1])).curve(d3.curveMonotoneX);
  const clipId = "clip"+p.row+"_"+p.col;
  g.append("clipPath").attr("id",clipId).append("rect")
    .attr("x",x0).attr("y",top-2).attr("width",x1-x0+2).attr("height",bottom-top+2);
  const lg = g.append("g").attr("clip-path",`url(#${clipId})`);
  lg.append("path").attr("d",line(pairs(p.alt))).attr("fill","none").attr("stroke","#a6a6a6").attr("stroke-width",1);
  lg.append("path").attr("d",line(pairs(p.obs))).attr("fill","none").attr("stroke","#111").attr("stroke-width",1.3).attr("stroke-linejoin","round");
  lg.append("path").attr("d",line(pairs(p.sim))).attr("fill","none").attr("stroke","#ff1a1a").attr("stroke-width",1.1).attr("stroke-linejoin","round");

  g.append("text").attr("x",x0+7).attr("y",top+12).attr("font-size",8.5).attr("fill","#111").text(p.label);
});
</script>
</body></html>
